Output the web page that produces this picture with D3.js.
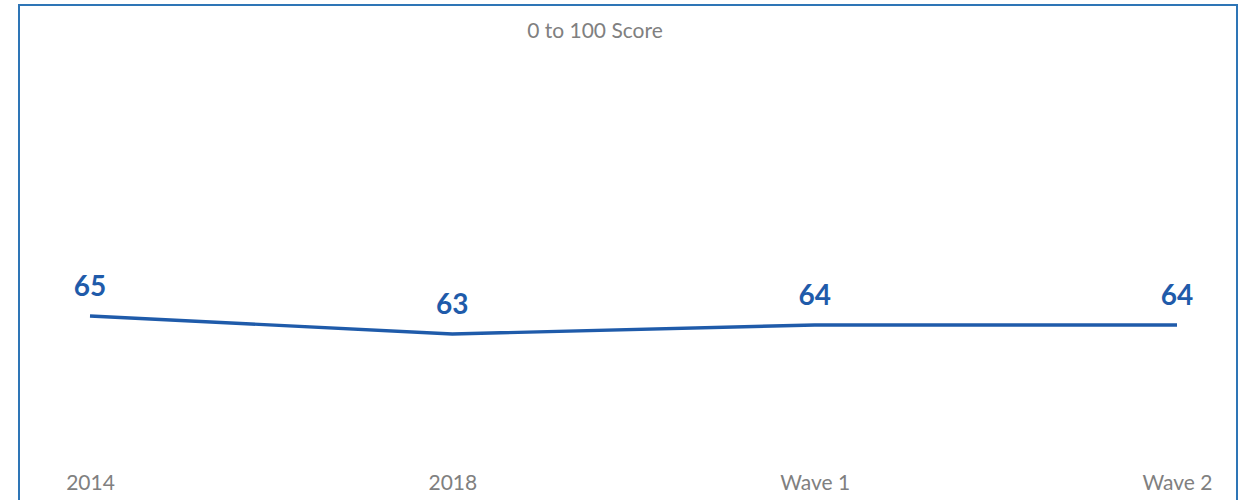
<!DOCTYPE html>
<html>
<head>
<meta charset="utf-8">
<script src="https://cdn.jsdelivr.net/npm/d3@7"></script>
<style>
  body { margin: 0; background: #fff; }
  svg { display: block; }
</style>
</head>
<body>
<script>
var categories = ["2014", "2018", "Wave 1", "Wave 2"];
var scores = [65, 63, 64, 64];
var title = "0 to 100 Score";

var width = 1240, height = 500;
var font = "Lato, 'Open Sans', sans-serif";

var svg = d3.select("body").append("svg").attr("width", width).attr("height", height);

// frame
svg.append("rect").attr("x", 19).attr("y", 5).attr("width", 1218).attr("height", 520)
    .attr("fill", "none").attr("stroke", "#2E75B6").attr("stroke-width", 2);

var x = d3.scalePoint().domain(categories).range([90, 1177]);
var y = d3.scaleLinear().domain([45, 95]).range([496, 46]);

var data = categories.map(function(c, i){ return {cat: c, v: scores[i]}; });

svg.append("text").attr("x", 595).attr("y", 38).attr("text-anchor", "middle")
    .attr("font-family", font).attr("font-size", 21).attr("fill", "#808080").text(title);

var line = d3.line()
    .x(function(d){ return x(d.cat); })
    .y(function(d){ return y(d.v); });

svg.append("path").attr("d", line(data)).attr("fill", "none")
    .attr("stroke", "#1F5BAA").attr("stroke-width", 3.4).attr("stroke-linejoin", "round");

svg.selectAll(".lbl").data(data).enter().append("text")
    .attr("x", function(d){ return x(d.cat); })
    .attr("y", function(d){ return y(d.v) - 20; })
    .attr("text-anchor", "middle").attr("font-family", font).attr("font-weight", "bold")
    .attr("font-size", 28).attr("fill", "#1F5BAA")
    .text(function(d){ return d.v; });

var xAxis = d3.axisBottom(x).tickSize(0).tickPadding(0);
var gx = svg.append("g").attr("transform", "translate(0,475)").call(xAxis);
gx.select(".domain").remove();
gx.selectAll("text").attr("font-family", font).attr("font-size", 21).attr("fill", "#808080");
</script>
</body>
</html>
